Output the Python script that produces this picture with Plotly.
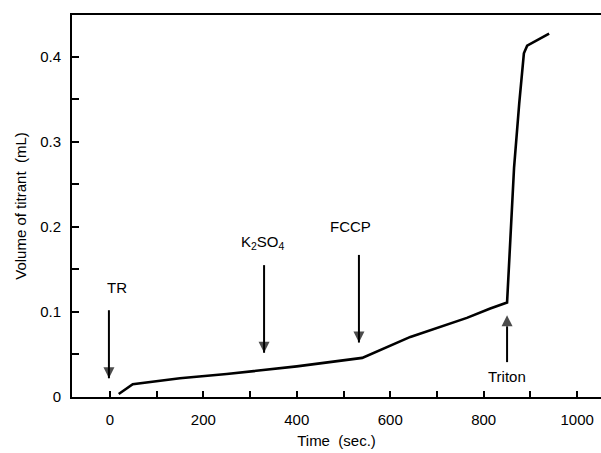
import plotly.graph_objects as go

# Data
time_s = [19, 49, 150, 250, 400, 540, 643, 764, 814, 850, 857, 865, 876, 886, 893, 940]
volume_ml = [0.0035, 0.015, 0.022, 0.027, 0.036, 0.046, 0.0706, 0.093, 0.104, 0.111,
             0.185, 0.270, 0.345, 0.404, 0.413, 0.427]

# Event markers: label, arrow x, arrow tail y, arrow head (tip) y, label x, label y
event_labels = ["TR", "K<sub>2</sub>SO<sub>4</sub>", "FCCP", "Triton"]
event_x = [-2, 330, 533, 850]
event_tail_y = [0.102, 0.155, 0.167, 0.041]
event_head_y = [0.022, 0.052, 0.064, 0.096]
event_label_x = [15, 328, 516, 850]
event_label_y = [0.129, 0.182, 0.200, 0.024]

x_tick_vals = [0, 200, 400, 600, 800, 1000]
y_tick_vals = [0, 0.1, 0.2, 0.3, 0.4]
y_tick_text = ["0", "0.1", "0.2", "0.3", "0.4"]

FONT = "Liberation Sans, Arial, Helvetica, sans-serif"

fig = go.Figure()
fig.add_trace(go.Scatter(
    x=time_s, y=volume_ml, mode="lines",
    line=dict(color="black", width=2.6),
    hoverinfo="skip", showlegend=False,
))

# Arrows: shaft line + arrowhead marker whose tip sits on the head point
for ex, ty, hy in zip(event_x, event_tail_y, event_head_y):
    sym = "arrow-down" if hy < ty else "arrow-up"
    fig.add_trace(go.Scatter(
        x=[ex, ex], y=[ty, hy], mode="lines+markers",
        line=dict(color="black", width=2),
        marker=dict(symbol=["circle", sym], size=[0, 11], color="black",
                    line=dict(width=0)),
        hoverinfo="skip", showlegend=False,
    ))

annotations = []
for lab, lx, ly in zip(event_labels, event_label_x, event_label_y):
    annotations.append(dict(
        x=lx, y=ly, xref="x", yref="y", showarrow=False, text=lab,
        font=dict(family=FONT, size=15, color="black"),
    ))

fig.update_layout(
    width=601, height=453,
    margin=dict(l=72, r=0, t=15, b=56),
    paper_bgcolor="white", plot_bgcolor="white",
    font=dict(family=FONT, size=15, color="black"),
    annotations=annotations,
    xaxis=dict(
        range=[-81, 1051], showgrid=False, zeroline=False,
        showline=True, linecolor="black", linewidth=2, mirror=True,
        tickmode="array", tickvals=x_tick_vals, ticktext=[str(v) for v in x_tick_vals],
        ticks="inside", ticklen=6, tickwidth=2, tickcolor="black",
        minor=dict(tickmode="linear", tick0=0, dtick=100, ticks="inside",
                   ticklen=6, tickwidth=2, tickcolor="black", showgrid=False),
        title=dict(text="Time  (sec.)", font=dict(size=15), standoff=8),
        ticklabelstandoff=8,
    ),
    yaxis=dict(
        range=[0, 0.449], showgrid=False, zeroline=False,
        showline=True, linecolor="black", linewidth=2,
        tickmode="array", tickvals=y_tick_vals, ticktext=y_tick_text,
        ticks="inside", ticklen=7, tickwidth=2, tickcolor="black",
        minor=dict(tickmode="linear", tick0=0, dtick=0.05, ticks="inside",
                   ticklen=7, tickwidth=2, tickcolor="black", showgrid=False),
        title=dict(text="Volume of titrant  (mL)", font=dict(size=15), standoff=10),
        ticklabelstandoff=6,
    ),
)

fig.write_html("out.html")
